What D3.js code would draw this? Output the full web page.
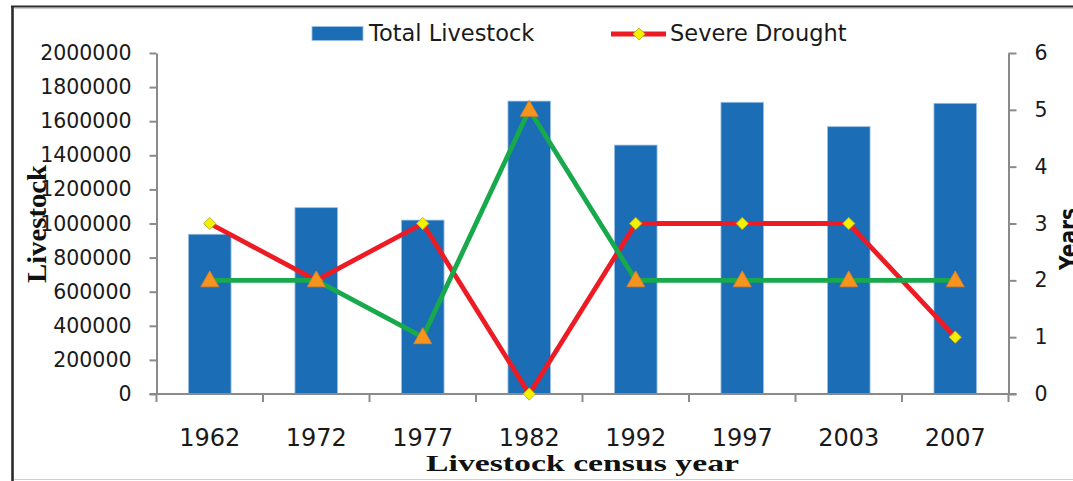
<!DOCTYPE html>
<html>
<head>
<meta charset="utf-8">
<script src="https://cdn.jsdelivr.net/npm/d3@7"></script>
<style>
  html, body { margin: 0; padding: 0; background: #fff; }
  svg { display: block; }
</style>
</head>
<body>
<svg id="chart" width="1073" height="481"></svg>
<script>
// Census years and series
const years = ["1962", "1972", "1977", "1982", "1992", "1997", "2003", "2007"];
const totalLivestock = [937000, 1093000, 1020000, 1718000, 1460000, 1711000, 1568000, 1705000];
const severeDrought = [3, 2, 3, 0, 3, 3, 3, 1];
const moderateDrought = [2, 2, 1, 5, 2, 2, 2, 2];
const leftTicks = [0, 200000, 400000, 600000, 800000, 1000000, 1200000, 1400000, 1600000, 1800000, 2000000];
const rightTicks = [0, 1, 2, 3, 4, 5, 6];

const svg = d3.select("#chart");
const W = 1073, H = 481;
const plot = { left: 156.5, right: 1008.5, top: 53, bottom: 394 };

const sans = "'DejaVu Sans', sans-serif";
const serif = "'Liberation Serif', 'Times New Roman', serif";
const axisGray = "#8a8a8a";

// Outer frame
svg.append("line").attr("x1", 12.5).attr("x2", 12.5).attr("y1", 6).attr("y2", H)
  .attr("stroke", "#2b2b2b").attr("stroke-width", 2.6);
svg.append("line").attr("x1", 11).attr("x2", W).attr("y1", 6.5).attr("y2", 6.5)
  .attr("stroke", "#2b2b2b").attr("stroke-width", 2.2);
svg.append("line").attr("x1", 14.5).attr("x2", W).attr("y1", 8.6).attr("y2", 8.6)
  .attr("stroke", "#c8c8c8").attr("stroke-width", 1);
svg.append("line").attr("x1", 14).attr("x2", W).attr("y1", 479.5).attr("y2", 479.5)
  .attr("stroke", "#cfcfcf").attr("stroke-width", 1.2);

// Scales
const x = d3.scaleBand().domain(years).range([plot.left, plot.right]).paddingInner(0.6).paddingOuter(0.3);
const xBand = d3.scaleBand().domain(years).range([plot.left, plot.right]);
const yL = d3.scaleLinear().domain([0, 2000000]).range([plot.bottom, plot.top]);
const yR = d3.scaleLinear().domain([0, 6]).range([plot.bottom, plot.top]);
const cx = d => xBand(d) + xBand.bandwidth() / 2;

// Bars
svg.append("g").selectAll("rect").data(years).join("rect")
  .attr("x", (d) => cx(d) - x.bandwidth() / 2)
  .attr("width", x.bandwidth())
  .attr("y", (d, i) => yL(totalLivestock[i]))
  .attr("height", (d, i) => plot.bottom - yL(totalLivestock[i]))
  .attr("fill", "#1b6db5")
  .attr("stroke", "#9cc1e4").attr("stroke-width", 0.8);

// Left axis
const gL = svg.append("g").attr("transform", `translate(${plot.left},0)`)
  .call(d3.axisLeft(yL).tickValues(leftTicks).tickFormat(d3.format("d")).tickSize(7).tickSizeOuter(0).tickPadding(18));
gL.select(".domain").attr("stroke", axisGray).attr("stroke-width", 2);
gL.selectAll(".tick line").attr("stroke", axisGray).attr("stroke-width", 2);
gL.selectAll(".tick text").attr("font-family", sans).attr("font-size", 20.5).attr("fill", "#1a1a1a");

// Right axis
const gR = svg.append("g").attr("transform", `translate(${plot.right},0)`)
  .call(d3.axisRight(yR).tickValues(rightTicks).tickFormat(d3.format("d")).tickSize(8).tickSizeOuter(0).tickPadding(18));
gR.select(".domain").attr("stroke", axisGray).attr("stroke-width", 2);
gR.selectAll(".tick line").attr("stroke", axisGray).attr("stroke-width", 2);
gR.selectAll(".tick text").attr("font-family", sans).attr("font-size", 20.5).attr("fill", "#1a1a1a");

// Bottom axis: ticks at category boundaries, labels at centres
const boundaries = years.map(d => xBand(d)).concat([plot.right]);
const gB = svg.append("g");
gB.append("line").attr("x1", plot.left - 7).attr("x2", plot.right + 8)
  .attr("y1", plot.bottom).attr("y2", plot.bottom).attr("stroke", axisGray).attr("stroke-width", 2);
gB.selectAll("line.tk").data(boundaries).join("line").attr("class", "tk")
  .attr("x1", d => d).attr("x2", d => d).attr("y1", plot.bottom).attr("y2", plot.bottom + 8)
  .attr("stroke", axisGray).attr("stroke-width", 2);
gB.selectAll("text").data(years).join("text")
  .attr("x", d => cx(d)).attr("y", 446).attr("text-anchor", "middle")
  .attr("font-family", sans).attr("font-size", 24).attr("fill", "#1a1a1a")
  .text(d => d);

// Lines
const lineR = d3.line().x((d, i) => cx(years[i])).y(d => yR(d));
svg.append("path").datum(severeDrought).attr("d", lineR)
  .attr("fill", "none").attr("stroke", "#ed1c24").attr("stroke-width", 4.8).attr("stroke-linejoin", "round");
const diamond = d3.symbol().type(d3.symbolDiamond2).size(95);
svg.append("g").selectAll("path").data(severeDrought).join("path")
  .attr("d", diamond)
  .attr("transform", (d, i) => `translate(${cx(years[i])},${yR(d)})`)
  .attr("fill", "#f4f100").attr("stroke", "#b9b62a").attr("stroke-width", 1);

svg.append("path").datum(moderateDrought).attr("d", lineR)
  .attr("fill", "none").attr("stroke", "#17a94c").attr("stroke-width", 4.8).attr("stroke-linejoin", "round");
svg.append("g").selectAll("path").data(moderateDrought).join("path")
  .attr("d", "M0,-9.5L9,6.5L-9,6.5Z")
  .attr("transform", (d, i) => `translate(${cx(years[i])},${yR(d)})`)
  .attr("fill", "#f7941d").attr("stroke", "#d9822a").attr("stroke-width", 0.8);

// Legend
const lg = svg.append("g");
lg.append("rect").attr("x", 312).attr("y", 26.5).attr("width", 51).attr("height", 14)
  .attr("fill", "#1b6db5").attr("stroke", "#9cc1e4").attr("stroke-width", 0.8);
lg.append("text").attr("x", 369).attr("y", 41).attr("font-family", sans).attr("font-size", 22.5)
  .attr("fill", "#1a1a1a").text("Total Livestock");
lg.append("line").attr("x1", 611).attr("x2", 666).attr("y1", 34).attr("y2", 34)
  .attr("stroke", "#ed1c24").attr("stroke-width", 4.8);
lg.append("path").attr("d", diamond).attr("transform", "translate(639,34)")
  .attr("fill", "#f4f100").attr("stroke", "#b9b62a").attr("stroke-width", 1);
lg.append("text").attr("x", 670).attr("y", 41).attr("font-family", sans).attr("font-size", 22.5)
  .attr("fill", "#1a1a1a").text("Severe Drought");

// Axis titles
svg.append("text").attr("transform", "translate(46,224) rotate(-90)")
  .attr("text-anchor", "middle").attr("font-family", serif).attr("font-size", 28)
  .attr("font-weight", "bold").attr("fill", "#111")
  .attr("textLength", 118).attr("lengthAdjust", "spacingAndGlyphs")
  .text("Livestock");
svg.append("text").attr("x", (plot.left + plot.right) / 2).attr("y", 471)
  .attr("text-anchor", "middle").attr("font-family", serif).attr("font-size", 24)
  .attr("font-weight", "bold").attr("fill", "#111")
  .attr("textLength", 313).attr("lengthAdjust", "spacingAndGlyphs")
  .text("Livestock census year");
svg.append("text").attr("transform", "translate(1077,239) rotate(-90)")
  .attr("text-anchor", "middle").attr("font-family", sans).attr("font-size", 24)
  .attr("font-weight", "bold").attr("fill", "#111")
  .attr("textLength", 62).attr("lengthAdjust", "spacingAndGlyphs")
  .text("Years");
</script>
</body>
</html>
